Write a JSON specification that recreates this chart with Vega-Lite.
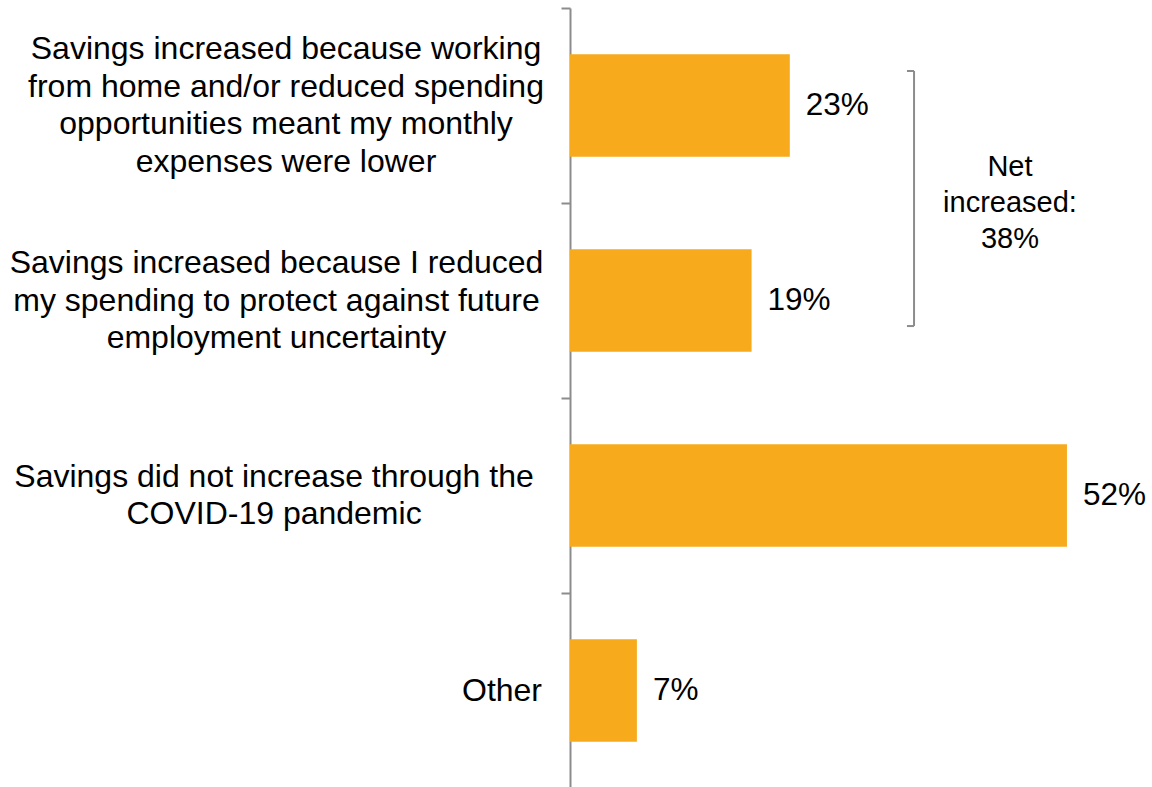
{
  "$schema": "https://vega.github.io/schema/vega-lite/v6.json",
  "width": 582,
  "height": 780,
  "autosize": {"type": "none"},
  "padding": {"left": 570, "top": 8, "right": 0, "bottom": 0},
  "background": "white",
  "config": {"view": {"stroke": null}, "font": "Liberation Sans"},
  "datasets": {
    "bars": [
      {"reason": "Savings increased because working|from home and/or reduced spending|opportunities meant my monthly|expenses were lower", "share": 0.23},
      {"reason": "Savings increased because I reduced|my spending to protect against future|employment uncertainty", "share": 0.19},
      {"reason": "Savings did not increase through the|COVID-19 pandemic", "share": 0.52},
      {"reason": "Other", "share": 0.07}
    ],
    "bracket": [
      {"xa": 0.36, "xb": 0.36, "ya": 0.323, "yb": 1.631},
      {"xa": 0.3526, "xb": 0.36, "ya": 0.323, "yb": 0.323},
      {"xa": 0.3526, "xb": 0.36, "ya": 1.631, "yb": 1.631}
    ]
  },
  "layer": [
    {
      "data": {"name": "bars"},
      "encoding": {
        "y": {
          "field": "reason", "type": "nominal", "sort": null,
          "scale": {"paddingInner": 0.474, "paddingOuter": 0.237},
          "axis": {
            "title": null,
            "labels": false,
            "domainColor": "#8c8c8c", "domainWidth": 2,
            "tickColor": "#8c8c8c", "tickWidth": 2, "tickSize": 9,
            "tickOffset": -97.5, "tickExtra": true
          }
        },
        "x": {"field": "share", "type": "quantitative", "scale": {"domain": [0, 0.609], "nice": false}, "axis": null}
      },
      "layer": [
        {"mark": {"type": "bar", "color": "#F6AA1C"}},
        {
          "mark": {"type": "text", "align": "left", "baseline": "middle", "dx": 16, "fontSize": 31.5, "font": "Liberation Sans", "color": "black"},
          "encoding": {"text": {"field": "share", "type": "quantitative", "format": ".0%"}}
        },
        {
          "mark": {
            "type": "text", "align": "center", "baseline": "middle",
            "fontSize": 32, "lineHeight": 37.5, "lineBreak": "|",
            "font": "Liberation Sans", "color": "black",
            "dx": {"expr": "datum.reason == 'Other' ? -68 : indexof(datum.reason, 'working') >= 0 ? -284 : indexof(datum.reason, 'I reduced') >= 0 ? -293.5 : -296"},
            "dy": {"expr": "-(length(split(datum.reason, '|')) - 1) * 37.5 / 2"}
          },
          "encoding": {
            "x": {"datum": 0, "type": "quantitative"},
            "text": {"field": "reason"}
          }
        }
      ]
    },
    {
      "layer": [
        {
          "data": {"name": "bracket"},
          "mark": {"type": "rule", "color": "#8c8c8c", "strokeWidth": 2},
          "encoding": {
            "x": {"field": "xa", "type": "quantitative"},
            "x2": {"field": "xb"},
            "y": {"field": "ya", "type": "quantitative", "scale": {"domain": [0, 4], "reverse": true, "nice": false, "zero": false}, "axis": null},
            "y2": {"field": "yb"}
          }
        },
        {
          "data": {"values": [{"label": "Net|increased:|38%"}]},
          "mark": {"type": "text", "align": "center", "baseline": "middle", "dy": -36, "fontSize": 29, "lineHeight": 36, "lineBreak": "|", "font": "Liberation Sans", "color": "black"},
          "encoding": {
            "x": {"datum": 0.4604, "type": "quantitative"},
            "y": {"datum": 1.0, "type": "quantitative", "scale": {"domain": [0, 4], "reverse": true, "nice": false, "zero": false}, "axis": null},
            "text": {"field": "label"}
          }
        }
      ]
    }
  ],
  "resolve": {"scale": {"y": "independent"}}
}
